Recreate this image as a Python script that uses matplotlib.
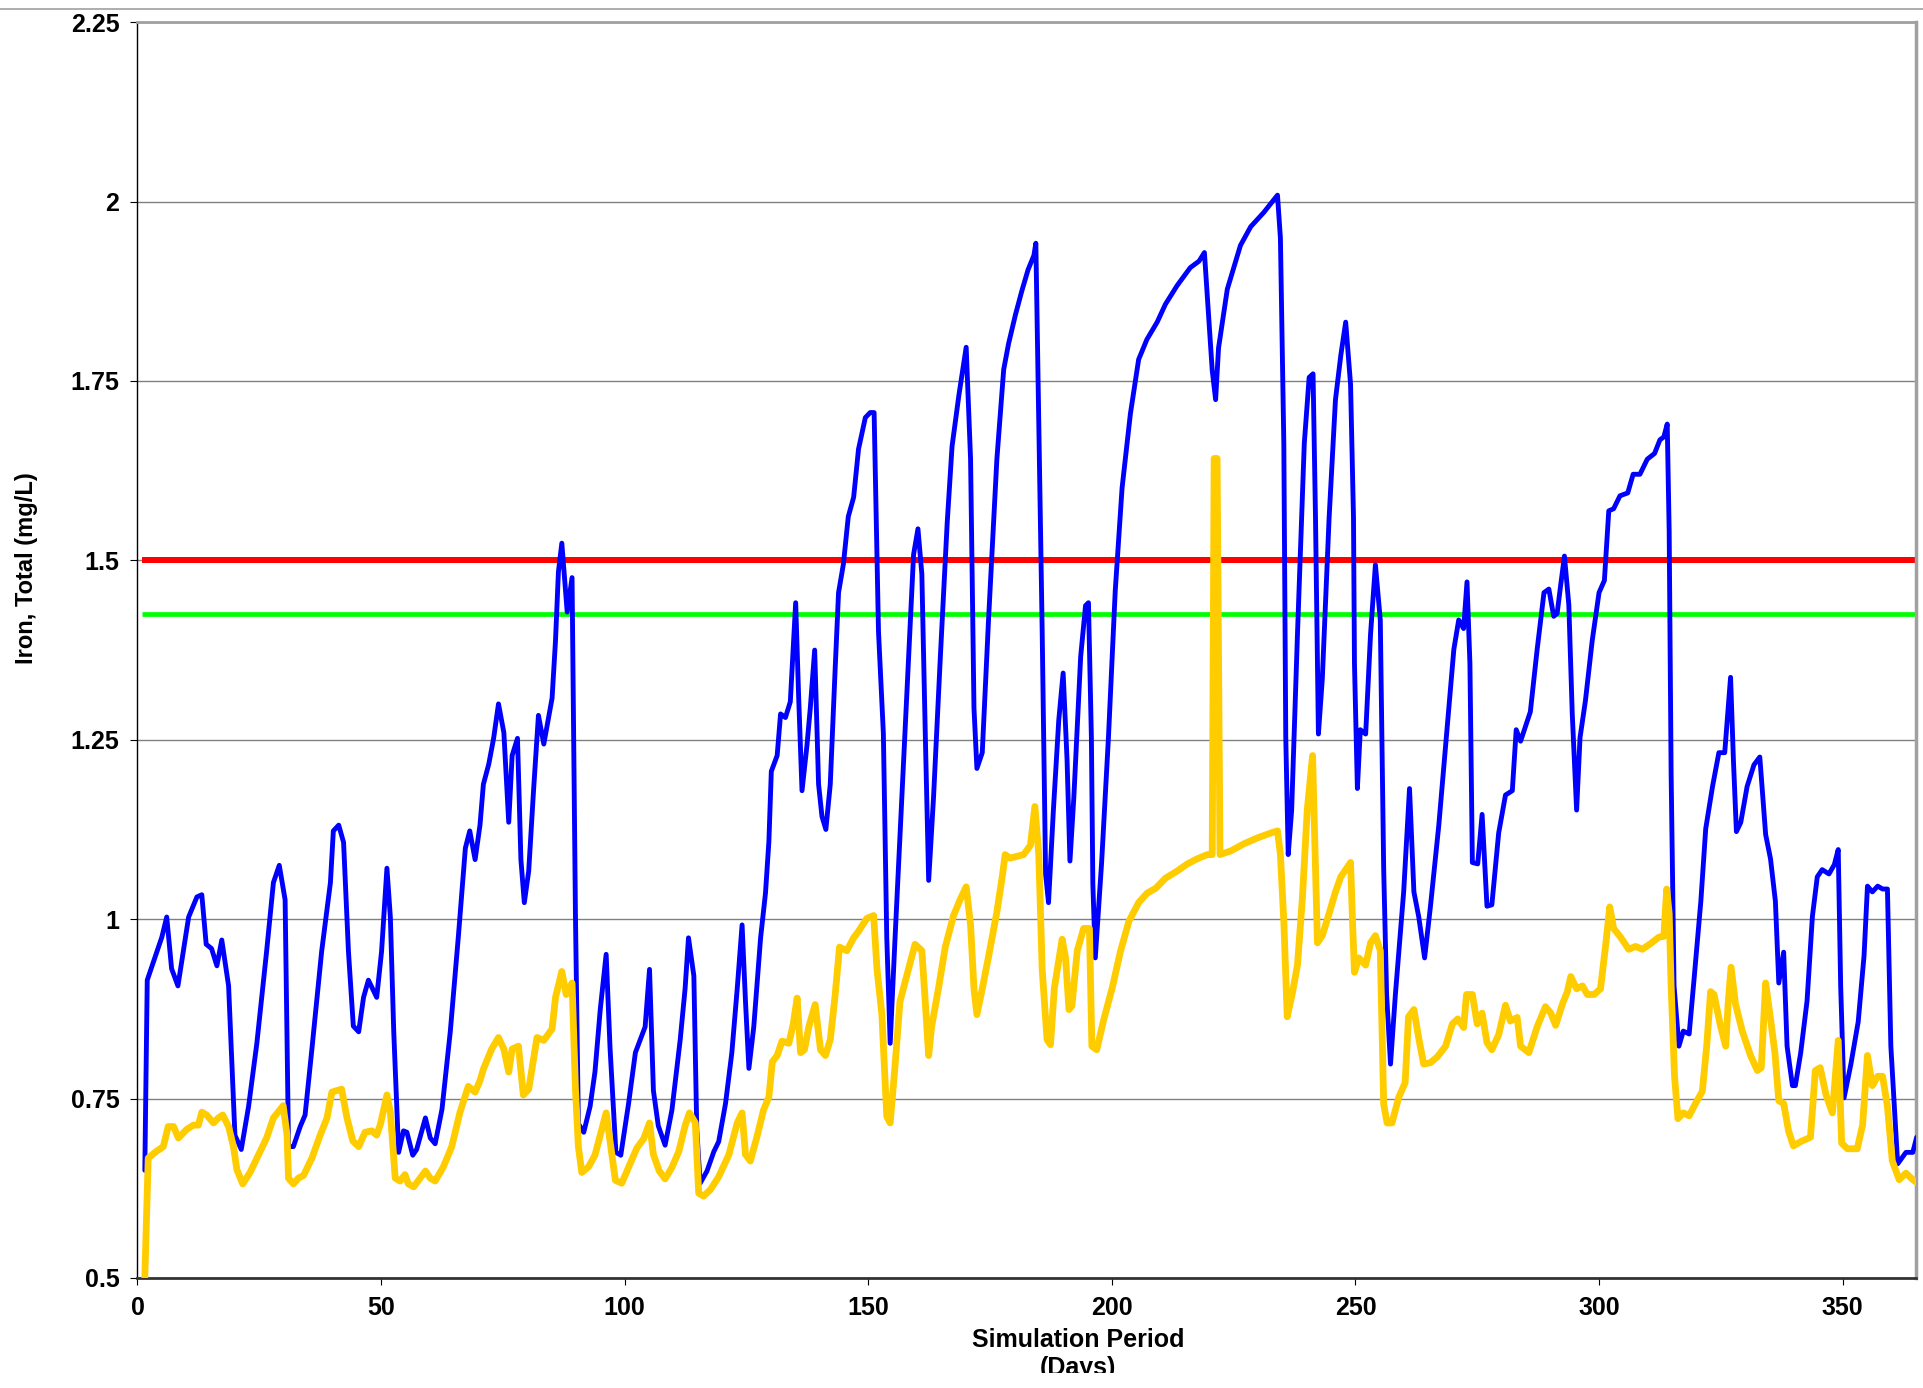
import matplotlib
matplotlib.use("Agg")
import matplotlib.pyplot as plt
from matplotlib.lines import Line2D
from matplotlib.transforms import Bbox, TransformedBbox

# upper (blue) iron series: simulation day, total iron (mg/L)
blue_days = [
    1.5, 2.0, 3.5, 5.0, 6.0, 7.0, 8.3, 10.5, 12.2, 13.2, 14.1, 15.2, 16.3, 17.3, 18.7,
    20.0, 21.3, 22.8, 24.5, 26.5, 27.9, 29.1, 30.3, 31.0, 32.0, 33.4, 34.4, 35.8, 37.8,
    39.6, 40.2, 41.3, 42.3, 43.3, 44.3, 45.4, 46.4, 47.4, 49.1, 50.1, 51.2, 51.9, 52.6,
    53.6, 54.6, 55.3, 56.5, 57.3, 59.1, 60.1, 61.1, 62.5, 64.2, 65.9, 67.3, 68.2, 69.3,
    70.3, 71.0, 72.1, 73.1, 74.1, 75.2, 76.2, 76.9, 78.0, 78.7, 79.4, 80.3, 81.3, 82.3,
    83.4, 85.1, 85.8, 86.4, 87.1, 88.2, 89.2, 89.9, 90.5, 91.6, 92.9, 93.9, 95.0, 96.2,
    97.0, 98.2, 99.2, 100.8, 102.2, 103.2, 104.2, 105.1, 105.9, 106.9, 108.3, 109.7,
    111.4, 112.4, 113.1, 114.2, 114.8, 115.5, 116.9, 118.3, 119.3, 120.7, 122.0, 123.1,
    124.1, 124.8, 125.5, 126.5, 127.9, 128.9, 129.6, 130.1, 131.3, 132.0, 133.0, 134.0,
    135.1, 135.7, 136.4, 137.4, 138.1, 139.0, 139.8, 140.5, 141.3, 142.2, 143.2, 143.9,
    144.9, 145.9, 147.0, 148.0, 149.4, 150.4, 151.2, 152.1, 153.1, 153.8, 154.5, 155.5,
    156.9, 158.3, 159.3, 160.2, 161.0, 161.7, 162.4, 163.4, 164.8, 166.2, 167.2, 168.6,
    170.1, 171.0, 171.7, 172.3, 173.4, 174.7, 176.4, 177.8, 178.8, 180.2, 181.5, 182.8,
    184.0, 184.4, 185.7, 186.4, 187.0, 188.0, 189.1, 190.0, 190.8, 191.4, 192.2, 193.6,
    194.6, 195.2, 195.8, 196.1, 196.6, 197.9, 199.3, 200.7, 202.1, 203.8, 205.5, 207.2,
    209.3, 211.0, 213.4, 216.1, 217.9, 219.0, 219.9, 220.6, 221.3, 221.9, 223.7, 226.4,
    228.5, 231.2, 234.0, 234.6, 235.3, 235.7, 236.2, 236.9, 238.1, 239.5, 240.5, 241.3,
    241.8, 242.4, 243.2, 244.6, 245.9, 247.0, 248.0, 249.0, 249.6, 249.8, 250.4, 251.0,
    252.1, 253.1, 254.1, 255.1, 255.8, 256.4, 257.2, 258.2, 259.9, 261.1, 262.0, 263.0,
    264.2, 265.4, 267.1, 268.8, 270.2, 271.2, 272.2, 272.9, 273.5, 274.0, 275.1, 276.0,
    277.0, 278.0, 279.4, 280.8, 282.2, 283.0, 283.9, 285.9, 287.3, 288.7, 289.7, 290.7,
    291.4, 292.1, 292.9, 293.8, 294.5, 295.4, 296.1, 297.2, 298.6, 300.0, 301.1, 302.0,
    303.0, 304.3, 305.9, 307.0, 308.4, 309.9, 311.4, 312.5, 313.3, 314.0, 314.4, 314.8,
    315.4, 316.4, 317.3, 318.5, 319.5, 320.9, 321.9, 323.3, 324.6, 325.8, 327.0, 327.6,
    328.2, 329.1, 330.4, 331.8, 333.0, 334.2, 335.2, 336.2, 336.9, 337.9, 338.6, 339.7,
    340.3, 341.4, 342.7, 343.8, 344.8, 345.8, 347.2, 348.3, 349.1, 349.6, 350.3, 351.7,
    353.2, 354.4, 355.1, 356.1, 357.2, 358.2, 359.2, 359.9, 361.3, 363.0, 364.4, 365.2,
]
blue_iron = [
    0.650, 0.915, 0.945, 0.975, 1.003, 0.931, 0.907, 1.003, 1.031, 1.034, 0.965, 0.959, 0.935, 0.971, 0.907,
    0.699, 0.679, 0.739, 0.827, 0.955, 1.051, 1.075, 1.027, 0.683, 0.683, 0.711, 0.727, 0.819, 0.955,
    1.051, 1.123, 1.131, 1.107, 0.955, 0.851, 0.843, 0.891, 0.915, 0.891, 0.955, 1.071, 1.003, 0.843,
    0.675, 0.705, 0.703, 0.671, 0.679, 0.723, 0.695, 0.687, 0.735, 0.843, 0.979, 1.099, 1.123, 1.083,
    1.131, 1.188, 1.216, 1.252, 1.300, 1.260, 1.135, 1.228, 1.252, 1.083, 1.023, 1.067, 1.180, 1.284,
    1.244, 1.308, 1.388, 1.484, 1.524, 1.428, 1.476, 1.003, 0.715, 0.703, 0.739, 0.787, 0.875, 0.951,
    0.820, 0.675, 0.671, 0.743, 0.814, 0.832, 0.850, 0.930, 0.761, 0.712, 0.685, 0.734,
    0.832, 0.903, 0.974, 0.921, 0.707, 0.632, 0.649, 0.676, 0.690, 0.743, 0.814, 0.903,
    0.992, 0.885, 0.792, 0.850, 0.974, 1.036, 1.108, 1.206, 1.228, 1.286, 1.281, 1.303,
    1.441, 1.312, 1.179, 1.241, 1.294, 1.375, 1.188, 1.143, 1.125, 1.188, 1.348, 1.455,
    1.495, 1.561, 1.588, 1.655, 1.699, 1.706, 1.706, 1.401, 1.259, 0.974, 0.827, 0.974,
    1.170, 1.366, 1.508, 1.544, 1.481, 1.259, 1.054, 1.170, 1.366, 1.552, 1.659, 1.730,
    1.797, 1.641, 1.294, 1.210, 1.232, 1.419, 1.641, 1.766, 1.802, 1.842, 1.875, 1.905,
    1.925, 1.942, 1.401, 1.063, 1.023, 1.152, 1.277, 1.343, 1.223, 1.081, 1.170, 1.366,
    1.437, 1.441, 1.253, 1.049, 0.946, 1.079, 1.253, 1.458, 1.601, 1.704, 1.780, 1.808,
    1.832, 1.857, 1.883, 1.908, 1.917, 1.929, 1.837, 1.765, 1.724, 1.796, 1.878, 1.939,
    1.965, 1.985, 2.009, 1.949, 1.663, 1.253, 1.090, 1.151, 1.397, 1.663, 1.755, 1.760,
    1.560, 1.258, 1.335, 1.560, 1.724, 1.786, 1.832, 1.745, 1.560, 1.356, 1.182, 1.264,
    1.258, 1.397, 1.494, 1.417, 1.069, 0.895, 0.798, 0.895, 1.038, 1.182, 1.038, 1.003,
    0.946, 1.018, 1.130, 1.264, 1.376, 1.417, 1.405, 1.470, 1.356, 1.079, 1.077, 1.146,
    1.018, 1.020, 1.120, 1.173, 1.179, 1.264, 1.248, 1.289, 1.376, 1.455, 1.460, 1.422,
    1.426, 1.464, 1.506, 1.438, 1.287, 1.152, 1.253, 1.304, 1.388, 1.455, 1.472, 1.569,
    1.572, 1.590, 1.594, 1.620, 1.620, 1.641, 1.649, 1.668, 1.672, 1.690, 1.540, 1.202,
    0.907, 0.823, 0.844, 0.840, 0.916, 1.025, 1.126, 1.185, 1.232, 1.232, 1.337, 1.219,
    1.122, 1.135, 1.185, 1.215, 1.226, 1.118, 1.084, 1.025, 0.911, 0.954, 0.823, 0.768,
    0.768, 0.814, 0.886, 1.004, 1.059, 1.069, 1.063, 1.076, 1.097, 0.907, 0.751, 0.798,
    0.857, 0.949, 1.046, 1.038, 1.046, 1.042, 1.042, 0.823, 0.659, 0.675, 0.675, 0.696,
]

# lower (yellow) iron series
yellow_days = [
    1.5, 2.2, 3.6, 5.3, 6.3, 7.4, 8.4, 10.1, 11.5, 12.5, 13.2, 14.2, 15.6, 16.6, 17.5,
    18.7, 19.7, 20.4, 21.6, 23.1, 24.8, 26.5, 27.9, 29.9, 30.7, 31.0, 32.0, 33.0, 34.1,
    35.8, 37.5, 38.9, 39.9, 41.9, 43.0, 44.2, 45.4, 46.7, 48.1, 49.1, 49.9, 51.2, 51.9,
    52.9, 53.9, 54.9, 55.6, 56.7, 58.0, 59.1, 60.1, 61.1, 62.8, 64.5, 66.2, 67.9, 69.3,
    70.3, 71.0, 72.7, 74.1, 75.2, 76.2, 76.9, 78.2, 79.2, 80.3, 82.0, 83.4, 85.1, 85.8,
    87.1, 88.0, 89.2, 89.9, 90.5, 91.2, 92.6, 93.9, 95.0, 96.2, 97.2, 98.1, 99.4, 100.8,
    102.5, 103.9, 105.1, 105.9, 107.1, 108.3, 109.7, 111.1, 112.4, 113.3, 114.5, 115.2,
    116.2, 117.6, 119.3, 121.4, 123.1, 124.1, 124.8, 125.8, 127.2, 128.5, 129.6, 130.3,
    131.3, 132.3, 133.7, 134.6, 135.4, 136.1, 136.9, 137.8, 139.1, 140.2, 141.2, 142.2,
    143.2, 144.1, 145.6, 147.0, 148.0, 149.7, 151.1, 151.8, 152.8, 153.8, 154.5, 155.5,
    156.5, 157.9, 159.6, 161.0, 161.7, 162.4, 163.0, 164.4, 165.8, 167.5, 168.9, 170.1,
    171.0, 171.7, 172.3, 173.4, 174.7, 176.4, 177.5, 178.1, 179.1, 181.9, 183.3, 184.2,
    185.0, 185.7, 186.7, 187.4, 188.2, 189.8, 190.5, 191.2, 191.8, 192.9, 194.2, 195.4,
    195.9, 196.9, 198.3, 200.1, 201.8, 203.5, 205.5, 207.2, 209.0, 211.0, 213.4, 215.5,
    217.5, 219.6, 220.6, 221.0, 221.6, 222.2, 224.4, 227.1, 229.8, 232.6, 234.0, 234.6,
    235.3, 236.0, 237.0, 238.1, 239.1, 240.1, 241.2, 241.8, 242.2, 243.2, 244.6, 245.9,
    247.0, 248.0, 249.0, 249.4, 249.8, 250.7, 252.1, 253.1, 254.1, 255.1, 255.8, 256.5,
    257.5, 258.9, 260.2, 260.9, 262.0, 263.0, 264.0, 265.4, 266.8, 268.5, 269.9, 271.0,
    272.2, 272.8, 274.0, 275.0, 276.0, 277.0, 278.0, 279.4, 280.8, 281.8, 283.2, 283.9,
    285.6, 287.3, 289.0, 290.1, 291.1, 292.5, 293.5, 294.2, 295.4, 296.6, 297.6, 299.0,
    300.3, 301.4, 302.2, 303.0, 304.4, 306.1, 307.5, 308.9, 310.6, 312.3, 313.3, 313.9,
    314.4, 314.8, 315.5, 316.2, 317.3, 318.5, 319.8, 321.2, 322.1, 322.9, 323.6, 324.9,
    326.0, 326.5, 327.1, 328.0, 329.4, 331.1, 332.5, 333.3, 334.2, 335.2, 336.1, 336.9,
    337.9, 338.9, 339.9, 341.4, 343.4, 344.4, 345.4, 346.6, 347.9, 349.1, 349.8, 351.0,
    353.0, 354.1, 355.1, 356.1, 357.2, 358.2, 359.2, 360.2, 361.6, 363.0, 364.4, 365.2,
]
yellow_iron = [
    0.500, 0.667, 0.675, 0.683, 0.711, 0.711, 0.695, 0.707, 0.713, 0.713, 0.731, 0.727, 0.716, 0.723, 0.727,
    0.711, 0.683, 0.651, 0.631, 0.647, 0.671, 0.695, 0.723, 0.740, 0.699, 0.639, 0.631, 0.639, 0.643,
    0.667, 0.699, 0.723, 0.759, 0.763, 0.723, 0.691, 0.683, 0.703, 0.705, 0.699, 0.715, 0.755, 0.731,
    0.639, 0.635, 0.644, 0.631, 0.627, 0.639, 0.649, 0.639, 0.635, 0.655, 0.683, 0.731, 0.767, 0.759,
    0.775, 0.791, 0.819, 0.835, 0.819, 0.787, 0.819, 0.823, 0.755, 0.763, 0.835, 0.831, 0.847, 0.891,
    0.927, 0.895, 0.911, 0.763, 0.683, 0.647, 0.655, 0.671, 0.699, 0.730, 0.680, 0.636, 0.632, 0.654,
    0.681, 0.694, 0.716, 0.672, 0.649, 0.638, 0.654, 0.676, 0.712, 0.730, 0.716, 0.618,
    0.614, 0.623, 0.641, 0.672, 0.716, 0.730, 0.672, 0.663, 0.698, 0.734, 0.752, 0.801,
    0.810, 0.830, 0.827, 0.854, 0.890, 0.814, 0.818, 0.850, 0.881, 0.818, 0.810, 0.832,
    0.894, 0.961, 0.956, 0.974, 0.983, 1.001, 1.005, 0.930, 0.867, 0.725, 0.716, 0.796,
    0.885, 0.921, 0.965, 0.956, 0.885, 0.810, 0.850, 0.903, 0.961, 1.005, 1.028, 1.045,
    0.992, 0.903, 0.867, 0.903, 0.948, 1.010, 1.059, 1.090, 1.085, 1.090, 1.103, 1.157,
    1.090, 0.930, 0.832, 0.825, 0.904, 0.972, 0.946, 0.874, 0.879, 0.956, 0.987, 0.987,
    0.823, 0.818, 0.859, 0.905, 0.956, 0.997, 1.023, 1.036, 1.043, 1.057, 1.067, 1.077,
    1.084, 1.090, 1.090, 1.642, 1.642, 1.090, 1.095, 1.105, 1.113, 1.120, 1.123, 1.090,
    0.997, 0.864, 0.895, 0.936, 1.028, 1.151, 1.228, 1.069, 0.967, 0.977, 1.008, 1.038,
    1.059, 1.069, 1.079, 0.997, 0.926, 0.946, 0.936, 0.967, 0.977, 0.956, 0.742, 0.716,
    0.716, 0.752, 0.772, 0.864, 0.874, 0.834, 0.798, 0.800, 0.808, 0.823, 0.854, 0.861,
    0.849, 0.895, 0.895, 0.854, 0.869, 0.828, 0.818, 0.839, 0.880, 0.858, 0.863, 0.823,
    0.814, 0.850, 0.878, 0.869, 0.852, 0.882, 0.899, 0.920, 0.903, 0.907, 0.895, 0.895,
    0.903, 0.966, 1.017, 0.987, 0.975, 0.958, 0.962, 0.958, 0.966, 0.975, 0.976, 1.042,
    1.008, 0.907, 0.781, 0.722, 0.730, 0.726, 0.743, 0.760, 0.823, 0.899, 0.895, 0.852,
    0.823, 0.882, 0.933, 0.882, 0.844, 0.810, 0.789, 0.793, 0.911, 0.861, 0.814, 0.747,
    0.743, 0.705, 0.684, 0.690, 0.696, 0.789, 0.793, 0.755, 0.730, 0.831, 0.688, 0.680,
    0.680, 0.713, 0.810, 0.768, 0.781, 0.781, 0.739, 0.663, 0.637, 0.646, 0.637, 0.633,
]

red_limit = 1.5
green_limit = 1.425
limit_start, limit_end = 1, 365

y_ticks = [0.5, 0.75, 1, 1.25, 1.5, 1.75, 2, 2.25]
y_ticklabels = ["0.5", "0.75", "1", "1.25", "1.5", "1.75", "2", "2.25"]
x_ticks = [0, 50, 100, 150, 200, 250, 300, 350]

plt.rcParams["font.family"] = ["Liberation Sans", "DejaVu Sans"]

fig = plt.figure(figsize=(19.23, 13.88), dpi=100)
ax = fig.add_axes([0.0715, 0.0793, 0.9247, 0.9047])

ax.set_xlim(0, 365)
ax.set_ylim(0.5, 2.25)
ax.set_yticks(y_ticks)
ax.set_yticklabels(y_ticklabels)
ax.set_xticks(x_ticks)
ax.yaxis.grid(True, color="#808080", lw=1.0)
ax.set_axisbelow(True)

ax.hlines(red_limit, limit_start, limit_end, color="#ff0000", lw=4.3, zorder=2)
ax.hlines(green_limit, limit_start, limit_end, color="#00ff00", lw=3.4, zorder=2)

ax.plot(blue_days, blue_iron, color="#0000ff", lw=3.5, zorder=3,
        solid_joinstyle="round", solid_capstyle="round")
ax.plot(yellow_days, yellow_iron, color="#ffcc00", lw=4.9, zorder=4,
        solid_joinstyle="round", solid_capstyle="round")

ax.tick_params(axis="both", direction="out", length=5, width=0.8, colors="black",
               labelsize=18)
ax.tick_params(axis="y", pad=8)
ax.tick_params(axis="x", pad=8)
for lab in ax.get_xticklabels() + ax.get_yticklabels():
    lab.set_fontweight("bold")

ax.spines["left"].set_color("black")
ax.spines["left"].set_linewidth(1.0)
ax.spines["bottom"].set_color("#333333")
ax.spines["bottom"].set_linewidth(2.0)
ax.spines["top"].set_color("#a0a0a0")
ax.spines["top"].set_linewidth(2.0)
ax.spines["right"].set_color("#a0a0a0")
ax.spines["right"].set_linewidth(2.5)

fig.text(0.014, 0.591, "Iron, Total (mg/L)", rotation=90, ha="center", va="center",
         fontsize=17, fontweight="bold")
xlab = fig.text(0.5606, 0.0435, "Simulation Period\n(Days)", ha="center", va="top",
                fontsize=18, fontweight="bold", linespacing=1.25)
# the second line of the axis title is cut off by the chart area in the original
xlab.set_clip_box(TransformedBbox(Bbox([[0, 15 / 1388], [1, 1]]), fig.transFigure))
xlab.set_clip_on(True)

# thin frame line along the top of the picture
fig.add_artist(Line2D([0, 1], [1 - 9 / 1388] * 2, transform=fig.transFigure,
                      color="#a0a0a0", lw=1.2))

fig.savefig("out.png", dpi=100)
